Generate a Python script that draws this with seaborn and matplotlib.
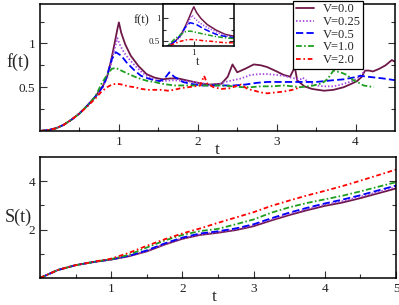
import numpy as np
import pandas as pd
import seaborn as sns
import matplotlib
matplotlib.use("Agg")
import matplotlib.pyplot as plt
import matplotlib.font_manager as fm

sns.set_style("ticks")

# locate a Times-like serif font
serif_name = None
for path in fm.findSystemFonts():
    if "LiberationSerif-Regular" in path:
        try:
            fm.fontManager.addfont(path)
            serif_name = fm.FontProperties(fname=path).get_name()
        except Exception:
            pass
        break
if serif_name is None:
    serif_name = "DejaVu Serif"
plt.rcParams['font.family'] = [serif_name, 'DejaVu Serif']

labels = ["V=0.0", "V=0.25", "V=0.5", "V=1.0", "V=2.0"]
colors = ["#6E1848", "#A445E0", "#0000FF", "#1E9E1E", "#FF0000"]

# ---- f(t) data (top panel) ----
t_f0 = [0, 0.1, 0.2, 0.3, 0.4, 0.5, 0.6, 0.7, 0.8, 0.85, 0.9, 0.95, 0.98, 1.0, 1.03, 1.08, 1.15, 1.25,
        1.35, 1.45, 1.55, 1.65, 1.75, 1.85, 1.95, 2.05, 2.15, 2.3, 2.38, 2.44, 2.5, 2.6, 2.71, 2.8, 2.88,
        3.0, 3.09, 3.17, 3.23, 3.26, 3.35, 3.45, 3.6, 3.72, 3.85, 3.95, 4.02, 4.08, 4.12, 4.17, 4.22,
        4.3, 4.38, 4.46, 4.5]
f0 = [0, 0.01, 0.03, 0.07, 0.13, 0.2, 0.29, 0.39, 0.52, 0.62, 0.8, 1.02, 1.16, 1.24, 1.12, 0.99, 0.86, 0.74,
      0.65, 0.61, 0.59, 0.6, 0.6, 0.58, 0.56, 0.54, 0.53, 0.54, 0.62, 0.76, 0.67, 0.71, 0.76, 0.75, 0.73,
      0.68, 0.64, 0.62, 0.73, 0.58, 0.51, 0.48, 0.46, 0.47, 0.5, 0.54, 0.57, 0.62, 0.69, 0.69, 0.68,
      0.71, 0.75, 0.81, 0.79]

t_f1 = [0, 0.1, 0.2, 0.3, 0.4, 0.5, 0.6, 0.7, 0.8, 0.85, 0.9, 0.94, 0.98, 1.02, 1.07, 1.12, 1.2, 1.29,
        1.37, 1.45, 1.55, 1.7, 1.85, 2.0, 2.1, 2.18, 2.28, 2.35, 2.45, 2.55, 2.67, 2.78, 2.88, 3.0, 3.09,
        3.18, 3.23, 3.3, 3.33, 3.37, 3.42, 3.5, 3.6, 3.72, 3.82, 3.89, 3.96, 4.02, 4.07, 4.12]
f1 = [0, 0.01, 0.03, 0.07, 0.13, 0.2, 0.29, 0.39, 0.51, 0.6, 0.76, 0.92, 1.06, 0.97, 0.89, 0.83, 0.75, 0.67,
      0.62, 0.58, 0.57, 0.58, 0.57, 0.55, 0.54, 0.52, 0.54, 0.56, 0.58, 0.6, 0.64, 0.65, 0.65, 0.64, 0.63,
      0.61, 0.6, 0.59, 0.61, 0.58, 0.55, 0.52, 0.51, 0.51, 0.53, 0.55, 0.57, 0.6, 0.64, 0.69]

t_f2 = [0, 0.1, 0.2, 0.3, 0.4, 0.5, 0.6, 0.7, 0.8, 0.86, 0.91, 0.96, 1.03, 1.1, 1.2, 1.28, 1.37, 1.45,
        1.52, 1.58, 1.64, 1.7, 1.76, 1.81, 1.9, 2.04, 2.2, 2.35, 2.46, 2.6, 2.75, 2.88, 3.0, 3.15, 3.3,
        3.5, 3.72, 3.85, 3.97, 4.06, 4.15, 4.25, 4.35, 4.5]
f2 = [0, 0.01, 0.03, 0.07, 0.13, 0.2, 0.29, 0.39, 0.51, 0.66, 0.82, 0.9, 0.86, 0.78, 0.69, 0.63, 0.6, 0.58,
      0.57, 0.6, 0.67, 0.62, 0.59, 0.56, 0.54, 0.52, 0.52, 0.52, 0.52, 0.53, 0.55, 0.56, 0.56, 0.56, 0.56,
      0.56, 0.58, 0.59, 0.61, 0.63, 0.62, 0.61, 0.6, 0.58]

t_f3 = [0, 0.1, 0.2, 0.3, 0.4, 0.5, 0.6, 0.7, 0.78, 0.85, 0.91, 0.96, 1.03, 1.1, 1.2, 1.29, 1.37, 1.45,
        1.54, 1.62, 1.7, 1.85, 2.04, 2.18, 2.3, 2.45, 2.57, 2.67, 2.8, 2.95, 3.09, 3.2, 3.3, 3.4, 3.47,
        3.55, 3.6, 3.65, 3.68, 3.72, 3.76, 3.81, 3.89, 3.97, 4.04, 4.1, 4.17, 4.23]
f3 = [0, 0.01, 0.03, 0.07, 0.13, 0.2, 0.29, 0.39, 0.54, 0.64, 0.71, 0.72, 0.69, 0.66, 0.62, 0.59, 0.57, 0.56,
      0.54, 0.53, 0.52, 0.52, 0.52, 0.52, 0.52, 0.51, 0.5, 0.5, 0.51, 0.51, 0.52, 0.51, 0.5, 0.51, 0.52,
      0.54, 0.56, 0.6, 0.64, 0.69, 0.68, 0.67, 0.64, 0.58, 0.55, 0.52, 0.51, 0.5]

t_f4 = [0, 0.1, 0.2, 0.3, 0.4, 0.5, 0.6, 0.7, 0.78, 0.85, 0.91, 0.97, 1.04, 1.12, 1.2, 1.29, 1.37, 1.45,
        1.54, 1.62, 1.7, 1.79, 1.88, 1.96, 2.03, 2.08, 2.12, 2.2, 2.3, 2.42, 2.5, 2.55, 2.63, 2.72, 2.8,
        2.88, 2.98, 3.09, 3.2, 3.3]
f4 = [0, 0.01, 0.03, 0.07, 0.13, 0.2, 0.28, 0.37, 0.45, 0.5, 0.53, 0.54, 0.53, 0.51, 0.5, 0.48, 0.47, 0.47,
      0.47, 0.46, 0.47, 0.49, 0.5, 0.51, 0.52, 0.63, 0.54, 0.5, 0.48, 0.49, 0.52, 0.53, 0.48, 0.46, 0.44,
      0.43, 0.44, 0.45, 0.47, 0.5]

t_f = [t_f0, t_f1, t_f2, t_f3, t_f4]
f_vals = [f0, f1, f2, f3, f4]

# ---- S(t) data (bottom panel) ----
t_s = [0, 0.25, 0.5, 0.75, 1.0, 1.25, 1.5, 1.75, 2.0, 2.25, 2.5, 2.75, 3.0, 3.25, 3.5, 3.75, 4.0, 4.25,
       4.5, 4.75, 5.0]
s0 = [0, 0.33, 0.53, 0.66, 0.76, 0.9, 1.1, 1.38, 1.62, 1.78, 1.87, 1.98, 2.14, 2.38, 2.6, 2.8, 2.98, 3.12,
      3.3, 3.5, 3.7]
s1 = [0, 0.33, 0.53, 0.66, 0.77, 0.91, 1.12, 1.4, 1.64, 1.8, 1.9, 2.01, 2.18, 2.42, 2.64, 2.85, 3.03, 3.18,
      3.36, 3.56, 3.76]
s2 = [0, 0.33, 0.53, 0.66, 0.77, 0.92, 1.14, 1.43, 1.67, 1.84, 1.93, 2.05, 2.22, 2.47, 2.7, 2.9, 3.08, 3.24,
      3.42, 3.62, 3.82]
s3 = [0, 0.33, 0.53, 0.66, 0.78, 0.96, 1.26, 1.55, 1.78, 1.94, 2.03, 2.22, 2.42, 2.7, 2.92, 3.1, 3.25, 3.4,
      3.58, 3.77, 3.96]
s4 = [0, 0.33, 0.53, 0.67, 0.8, 1.04, 1.33, 1.6, 1.84, 2.05, 2.28, 2.5, 2.72, 2.98, 3.2, 3.41, 3.6, 3.8,
      4.02, 4.25, 4.48]
s_vals = [s0, s1, s2, s3, s4]

dash_styles = [None, (0.8, 1.1), (4.0, 1.8), (3.2, 1.3, 0.9, 1.3), (2.6, 1.5, 0.9, 1.5)]

W, H = 399, 305
fig = plt.figure(figsize=(W / 100, H / 100), dpi=100)

def fr(x0, y0, x1, y1):
    return [x0 / W, 1 - y1 / H, (x1 - x0) / W, (y1 - y0) / H]

ax1 = fig.add_axes(fr(40, 4, 395, 131))
ax2 = fig.add_axes(fr(40, 157, 396, 278))
axi = fig.add_axes(fr(163, 4, 234, 46))

def draw(ax, xs, ys, lw, with_label):
    for i in range(5):
        df = pd.DataFrame({"t": xs[i], "v": ys[i]})
        sns.lineplot(data=df, x="t", y="v", ax=ax, color=colors[i], lw=lw,
                     label=labels[i] if with_label else None, legend=False)
        line = ax.get_lines()[-1]
        if dash_styles[i] is not None:
            line.set_dashes(dash_styles[i])

draw(ax1, t_f, f_vals, 1.3, True)
draw(axi, t_f, f_vals, 1.1, False)
draw(ax2, [t_s] * 5, s_vals, 1.3, False)

def style(ax, fs):
    for s in ax.spines.values():
        s.set_linewidth(1.1)
        s.set_color("black")
        s.set_visible(True)
    ax.tick_params(which="both", direction="in", right=True, top=False, labelsize=fs,
                   colors="#333333", labelcolor="#222222")
    ax.tick_params(which="major", length=5, width=0.8, pad=3.5)
    ax.tick_params(which="minor", length=3, width=0.8)

# top panel
ax1.set_xlim(0, 4.5)
ax1.set_ylim(0, 1.45)
ax1.set_xticks([1, 2, 3, 4])
ax1.set_xticks([0.5, 1.5, 2.5, 3.5], minor=True)
ax1.set_yticks([0.5, 1])
ax1.set_yticklabels(["0.5", "1"])
ax1.set_yticks([0.25, 0.75, 1.25], minor=True)
style(ax1, 9.5)
ax1.set_xlabel("t", fontsize=12.5, va="center")
ax1.set_ylabel("f(t)", fontsize=13, rotation=0, ha="center", va="center")
ax1.xaxis.set_label_coords(0.4986, -0.15)
ax1.yaxis.set_label_coords(-0.062, 0.543)

# inset
axi.set_xlim(0.655, 1.45)
axi.set_ylim(0.4, 1.3)
axi.set_xticks([1])
axi.set_yticks([0.5, 1])
axi.set_yticklabels(["0.5", "1"])
axi.set_yticks([0.75], minor=True)
style(axi, 6.5)
axi.tick_params(which="major", length=3.5, pad=2)
axi.tick_params(which="minor", length=2)
axi.set_xlabel("t", fontsize=8.5, va="center")
axi.set_ylabel("f(t)", fontsize=9, rotation=0, ha="center", va="center")
axi.xaxis.set_label_coords(0.486, -0.38)
axi.yaxis.set_label_coords(-0.31, 0.62)
axi.set_facecolor("white")

# bottom panel
ax2.set_xlim(0, 5)
ax2.set_ylim(0, 5)
ax2.set_xticks([1, 2, 3, 4, 5])
ax2.set_xticks([0.5, 1.5, 2.5, 3.5, 4.5], minor=True)
ax2.set_yticks([2, 4])
ax2.set_yticks([1, 3], minor=True)
style(ax2, 9.5)
ax2.set_xlabel("t", fontsize=12.5, va="center")
ax2.set_ylabel("S(t)", fontsize=13, rotation=0, ha="center", va="center")
ax2.xaxis.set_label_coords(0.49, -0.157)
ax2.yaxis.set_label_coords(-0.062, 0.504)

handles, labs = ax1.get_legend_handles_labels()
leg = ax1.legend(handles, labs, loc="upper left", bbox_to_anchor=(293 / W, 1 - 1 / H),
                 bbox_transform=fig.transFigure, fontsize=9, frameon=True, fancybox=False,
                 edgecolor="black", framealpha=1, borderpad=0.2, labelspacing=0.05,
                 handlelength=1.5, handletextpad=0.65, borderaxespad=0)
leg.get_frame().set_linewidth(0.9)
leg.set_zorder(20)

fig.savefig("out.png", dpi=100)
